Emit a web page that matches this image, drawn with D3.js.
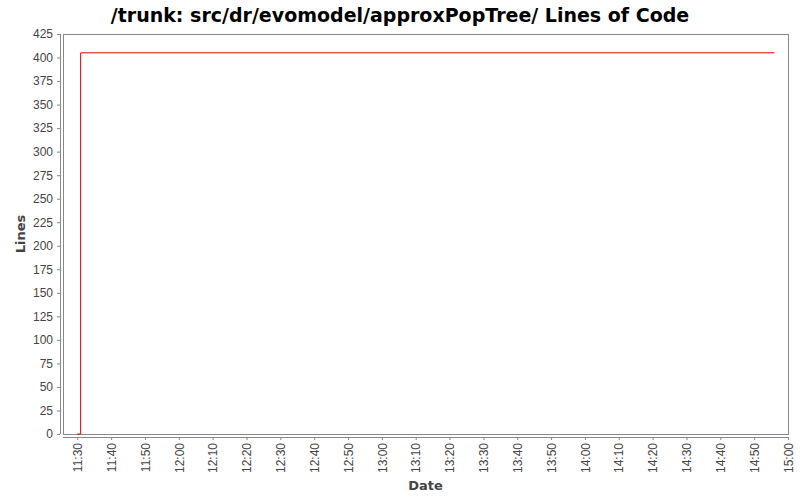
<!DOCTYPE html>
<html lang="en">
<head>
  <meta charset="UTF-8">
  <title>Lines of Code</title>
  <script src="https://d3js.org/d3.v7.min.js"></script>
  <style>
    body { margin: 0; background: #fff; }
    svg { display: block; font-family: "DejaVu Sans", sans-serif; }
    .tick text { fill: #444; font-size: 12px; }
    .tick line, .domain { stroke: #888; }
  </style>
</head>
<body>
  <script>
    // data: commit times and line counts
    const times = ['11:30', '11:31', '14:56'];
    const lines = [0, 405, 405];
    const yTicks = d3.range(0, 426, 25);
    const xTickLabels = ['11:30', '11:40', '11:50', '12:00', '12:10', '12:20', '12:30', '12:40', '12:50',
      '13:00', '13:10', '13:20', '13:30', '13:40', '13:50', '14:00', '14:10', '14:20', '14:30',
      '14:40', '14:50', '15:00'];

    const w = 800;
    const h = 500;
    const plotLeft = 63, plotRight = 788, plotTop = 34, plotBottom = 434;

    const parse = d3.timeParse('%H:%M');
    const data = times.map((t, i) => ({ date: parse(t), value: lines[i] }));

    const xScale = d3.scaleTime()
      .domain([d3.timeSecond.offset(parse('11:30'), -253), parse('15:00')])
      .range([plotLeft, plotRight]);

    const yScale = d3.scaleLinear()
      .domain([0, 425])
      .range([plotBottom, plotTop]);

    const svg = d3.select('body')
      .append('svg')
      .attr('width', w)
      .attr('height', h)

    // title
    svg.append('text')
      .attr('x', 400)
      .attr('y', 22)
      .attr('text-anchor', 'middle')
      .style('font-size', '19px')
      .style('font-weight', 'bold')
      .text('/trunk: src/dr/evomodel/approxPopTree/ Lines of Code')

    // plot box
    svg.append('rect')
      .attr('x', plotLeft + 0.5)
      .attr('y', plotTop + 0.5)
      .attr('width', plotRight - plotLeft)
      .attr('height', plotBottom - plotTop)
      .attr('fill', 'none')
      .attr('stroke', '#888')

    // y axis
    const yAxis = d3.axisLeft(yScale)
      .tickValues(yTicks)
      .tickSize(3)
      .tickPadding(4)
    svg.append('g')
      .attr('transform', `translate(${plotLeft - 3},0)`)
      .call(yAxis)
      .call(g => g.select('.domain').attr('d', `M0.5,${plotTop}V${plotBottom}`))

    // x axis
    const xAxis = d3.axisBottom(xScale)
      .tickValues(xTickLabels.map(parse))
      .tickFormat(d3.timeFormat('%H:%M'))
      .tickSize(3)
    svg.append('g')
      .attr('transform', `translate(0,${plotBottom + 3})`)
      .call(xAxis)
      .call(g => g.select('.domain').attr('d', `M${plotLeft},0.5H${plotRight}`))
      .selectAll('.tick text')
      .attr('transform', 'rotate(-90)')
      .attr('text-anchor', 'end')
      .attr('x', -6)
      .attr('y', 0)
      .attr('dy', '0.35em')

    // axis labels
    svg.append('text')
      .attr('transform', `translate(25,${(plotTop + plotBottom) / 2}) rotate(-90)`)
      .attr('text-anchor', 'middle')
      .style('font-size', '13px')
      .style('font-weight', 'bold')
      .style('fill', '#444')
      .text('Lines')

    svg.append('text')
      .attr('x', (plotLeft + plotRight) / 2)
      .attr('y', 490)
      .attr('text-anchor', 'middle')
      .style('font-size', '13px')
      .style('font-weight', 'bold')
      .style('fill', '#444')
      .text('Date')

    // step line
    const line = d3.line()
      .x(d => xScale(d.date))
      .y(d => yScale(d.value))
      .curve(d3.curveStepAfter)
    svg.append('path')
      .datum(data)
      .attr('d', line)
      .attr('fill', 'none')
      .attr('stroke', '#e00000')
      .attr('stroke-width', 1)
  </script>
</body>
</html>
